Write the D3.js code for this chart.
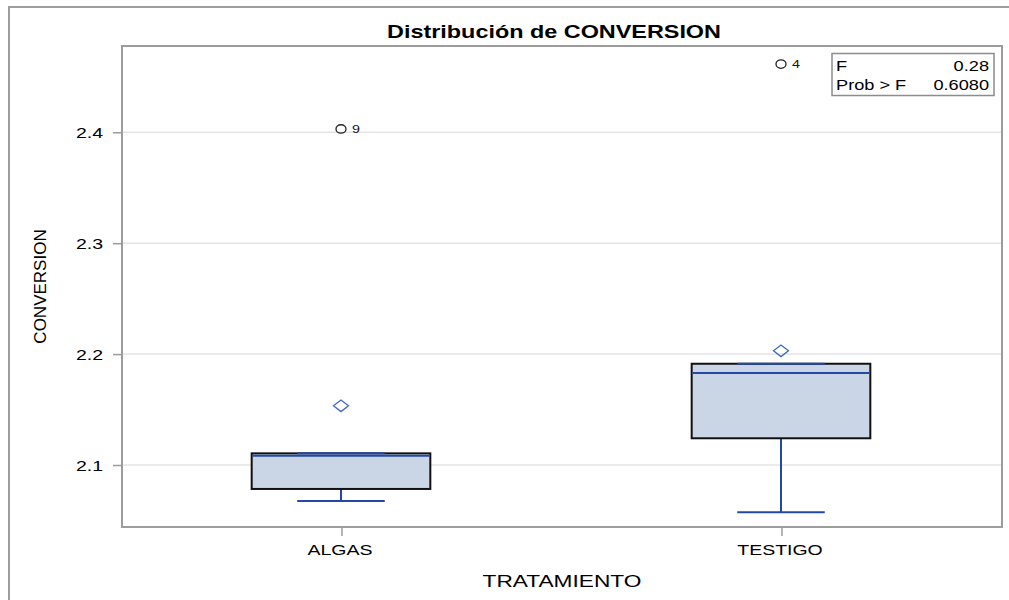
<!DOCTYPE html>
<html>
<head>
<meta charset="utf-8">
<script src="https://cdn.jsdelivr.net/npm/d3@7"></script>
<style>
  html, body { margin: 0; padding: 0; background: #fff; }
  svg { display: block; font-family: "Liberation Sans", Arial, sans-serif; }
</style>
</head>
<body>
<svg id="chart" width="1009" height="600"></svg>
<script>
// ---- data ----
const categories = ["ALGAS", "TESTIGO"];
const q1Values = [2.0784, 2.1241];
const medianValues = [2.1084, 2.1829];
const q3Values = [2.1105, 2.1913];
const whiskerLowValues = [2.0676, 2.0574];
const whiskerHighValues = [2.1105, 2.1913];
const meanValues = [2.1534, 2.2030];
const outlierCats = ["ALGAS", "TESTIGO"];
const outlierValues = [2.4030, 2.4615];
const outlierLabels = ["9", "4"];
const yTicks = [2.1, 2.2, 2.3, 2.4];
const statLabels = ["F", "Prob > F"];
const statValues = ["0.28", "0.6080"];

const titleText = "Distribución de CONVERSION";
const xLabel = "TRATAMIENTO";
const yLabel = "CONVERSION";

// ---- layout ----
const svg = d3.select("#chart");
const L = 122, R = 1002, T = 46, B = 527;
const SX = 1.3; // horizontal text stretch

const x = d3.scaleBand().domain(categories).range([L, R]).padding(0);
const y = d3.scaleLinear().domain([2.0441, 2.4778]).range([B, T]);

const boxW = x.bandwidth() * 0.406;
const capW = boxW * 0.49;
const blue = "#2348a8";
const diamondBlue = "#3f67c4";
const boxFill = "#cad5e5";

// outer frame
svg.append("rect").attr("x", 9).attr("y", 7).attr("width", 1040).attr("height", 640)
  .attr("fill", "none").attr("stroke", "#9c9c9c").attr("stroke-width", 2);

// title
svg.append("text").attr("transform", `translate(554,38) scale(${SX},1)`)
  .attr("text-anchor", "middle").attr("font-size", 18).attr("font-weight", "bold")
  .attr("fill", "#000").text(titleText);

// gridlines
svg.append("g").selectAll("line").data(yTicks).join("line")
  .attr("x1", L).attr("x2", R).attr("y1", d => y(d)).attr("y2", d => y(d))
  .attr("stroke", "#e4e4e4").attr("stroke-width", 1.5);

// y axis
const yAxis = svg.append("g").attr("transform", `translate(${L},0)`)
  .call(d3.axisLeft(y).tickValues(yTicks).tickFormat(d3.format(".1f")).tickSize(9).tickPadding(10));
yAxis.select(".domain").remove();
yAxis.selectAll(".tick line").attr("stroke", "#9c9c9c").attr("stroke-width", 1.5);
yAxis.selectAll(".tick text").each(function() {
  const t = d3.select(this);
  const xx = +t.attr("x");
  t.attr("x", null).attr("dy", null)
   .attr("transform", `translate(${xx},5.4) scale(${SX},1)`)
   .attr("font-size", 15).attr("fill", "#000")
   .attr("font-family", "Liberation Sans, Arial, sans-serif");
});

// x axis
const xAxis = svg.append("g").attr("transform", `translate(0,${B})`)
  .call(d3.axisBottom(x).tickSize(9).tickPadding(14));
xAxis.select(".domain").remove();
xAxis.selectAll(".tick line").attr("stroke", "#9c9c9c").attr("stroke-width", 1.5);
xAxis.selectAll(".tick text").each(function() {
  const t = d3.select(this);
  t.attr("y", null).attr("dy", null)
   .attr("transform", `translate(-2,28) scale(${SX},1)`)
   .attr("font-size", 15).attr("fill", "#000")
   .attr("font-family", "Liberation Sans, Arial, sans-serif");
});

// axis labels
svg.append("text").attr("transform", `translate(${(L + R) / 2},587) scale(1.42,1)`)
  .attr("text-anchor", "middle").attr("font-size", 16).attr("fill", "#000").text(xLabel);
svg.append("text").attr("transform", `translate(46,${(T + B) / 2}) rotate(-90)`)
  .attr("text-anchor", "middle").attr("font-size", 17).attr("fill", "#000").text(yLabel);

// boxes
const stats = categories.map((c, i) => ({
  cat: c, q1: q1Values[i], med: medianValues[i], q3: q3Values[i],
  lo: whiskerLowValues[i], hi: whiskerHighValues[i], mean: meanValues[i]
}));
const cx = d => x(d.cat) + x.bandwidth() / 2 - 1;

const g = svg.append("g");
stats.forEach(d => {
  const c = cx(d);
  // lower whisker
  g.append("line").attr("x1", c).attr("x2", c).attr("y1", y(d.q1)).attr("y2", y(d.lo))
    .attr("stroke", blue).attr("stroke-width", 2);
  g.append("line").attr("x1", c - capW / 2).attr("x2", c + capW / 2).attr("y1", y(d.lo)).attr("y2", y(d.lo))
    .attr("stroke", blue).attr("stroke-width", 2);
  // box
  g.append("rect").attr("x", c - boxW / 2).attr("y", y(d.q3)).attr("width", boxW)
    .attr("height", y(d.q1) - y(d.q3)).attr("fill", boxFill).attr("stroke", "#111").attr("stroke-width", 2);
  // upper whisker cap (coincides with Q3)
  g.append("line").attr("x1", c - capW / 2).attr("x2", c + capW / 2).attr("y1", y(d.hi)).attr("y2", y(d.hi))
    .attr("stroke", blue).attr("stroke-width", 2);
  // median
  g.append("line").attr("x1", c - boxW / 2 + 1).attr("x2", c + boxW / 2 - 1).attr("y1", y(d.med)).attr("y2", y(d.med))
    .attr("stroke", blue).attr("stroke-width", 2);
  // mean diamond
  const dia = d3.line()([[-7.5, 0], [0, -5.8], [7.5, 0], [0, 5.8]]) + "Z";
  g.append("path").attr("d", dia).attr("transform", `translate(${c},${y(d.mean)})`)
    .attr("fill", "none").attr("stroke", diamondBlue).attr("stroke-width", 1.3);
});

// outliers
outlierCats.forEach((c, i) => {
  const px = x(c) + x.bandwidth() / 2 - 1;
  const py = y(outlierValues[i]);
  g.append("ellipse").attr("cx", px).attr("cy", py).attr("rx", 5).attr("ry", 4.2)
    .attr("fill", "none").attr("stroke", "#222").attr("stroke-width", 1.3);
  g.append("text").attr("transform", `translate(${px + 11},${py + 4}) scale(${SX},1)`)
    .attr("font-size", 11).attr("fill", "#111").text(outlierLabels[i]);
});

// plot frame
svg.append("rect").attr("x", L).attr("y", T).attr("width", R - L).attr("height", B - T)
  .attr("fill", "none").attr("stroke", "#9c9c9c").attr("stroke-width", 2);

// stats inset
const ins = svg.append("g");
ins.append("rect").attr("x", 832).attr("y", 53.5).attr("width", 162).attr("height", 42)
  .attr("fill", "#fff").attr("stroke", "#8c8c8c").attr("stroke-width", 1.5);
statLabels.forEach((s, i) => {
  ins.append("text").attr("transform", `translate(836,${71 + i * 19}) scale(${SX},1)`)
    .attr("font-size", 14).attr("fill", "#000").text(s);
  ins.append("text").attr("transform", `translate(989,${71 + i * 19}) scale(${SX},1)`)
    .attr("text-anchor", "end").attr("font-size", 14).attr("fill", "#000").text(statValues[i]);
});
</script>
</body>
</html>
